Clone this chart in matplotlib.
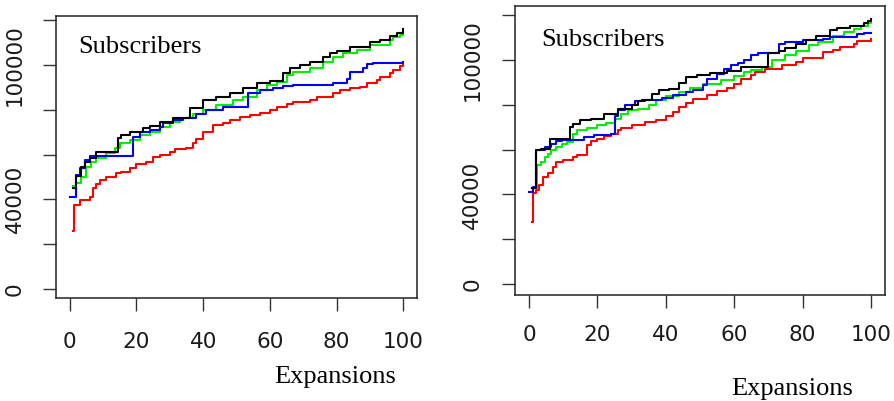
import matplotlib
matplotlib.use("Agg")
import matplotlib.pyplot as plt

# left panel, step series (x where the step starts, value from there on)
left_red_x = [1, 1.3, 3, 6, 7, 8, 9, 11, 14, 15.5, 18, 20, 23, 25, 27, 30, 31.5, 35, 37, 38,
              40, 43, 46, 48, 51, 54, 57, 60, 62, 65, 67, 72, 74, 79, 81, 84, 87, 89, 92, 93,
              96, 97, 99, 100]
left_red_y = [26000, 37500, 39700, 41000, 45000, 47000, 48600, 50000, 51700, 52300, 54000, 55700,
              56800, 59000, 59800, 61200, 62400, 63000, 65000, 67000, 70200, 73100, 74200, 75400,
              76600, 77600, 78600, 79800, 81000, 82500, 83300, 84300, 85500, 87300, 88700, 89500,
              90200, 91700, 93200, 94700, 96200, 97700, 99500, 100500]

left_green_x = [1, 2, 3.5, 5, 6.5, 8, 11, 13.5, 15, 18, 21, 24, 27, 30, 33, 37, 40, 44, 49, 52,
                56, 59, 62, 65, 67, 72, 76, 79, 82, 86, 90, 96, 97, 99, 100]
left_green_y = [46000, 47100, 50100, 54500, 56800, 58300, 60500, 62700, 65000, 66500, 68700, 70200,
                72400, 74600, 76200, 78000, 79800, 82100, 84300, 85800, 88800, 91000, 92500, 95400,
                97000, 98400, 101400, 103600, 105100, 106600, 108800, 111000, 112500, 113300, 114000]

left_blue_x = [0, 2, 3, 4.5, 6, 19, 21, 24, 27, 28, 31, 34, 38, 41, 46, 53.4, 57, 61, 64, 67,
               79, 83, 84, 88, 89, 91, 100]
left_blue_y = [41000, 50800, 53800, 57500, 59500, 67900, 70200, 70900, 72400, 73900, 75400, 76300,
               78300, 79800, 81000, 87600, 88800, 89500, 90500, 90900, 92000, 93500, 97000, 98400,
               100300, 100900, 101400]

left_black_x = [1, 2, 3.5, 4.5, 6, 8, 14.5, 15.5, 18, 22, 24, 27, 31, 36, 40, 44, 48, 52, 56, 60,
                64, 66, 69, 72, 76, 78, 80, 84, 90, 93, 96, 98, 100]
left_black_y = [45000, 50400, 54500, 56800, 58300, 61200, 67200, 68700, 70200, 71700, 72700, 74600,
                76100, 80600, 84300, 85800, 87300, 89500, 92000, 92800, 96200, 98400, 99800, 101400,
                103600, 105100, 106300, 107800, 110000, 111000, 112800, 114000, 115800]

# right panel
right_red_x = [1, 1.3, 2, 3, 4, 5.5, 7, 8, 10, 13, 14, 17, 18, 20, 22, 24, 26, 27, 30, 34,
               37, 40, 42, 44, 46, 48, 52, 55, 58, 60, 62, 65, 66, 69, 74, 78, 80, 86, 89, 91,
               95, 96, 100]
right_red_y = [27800, 40700, 42200, 44200, 47900, 49400, 52300, 54500, 55600, 56800, 57500, 62000,
               63900, 65000, 66000, 67200, 68700, 69900, 70900, 72400, 73400, 74900, 76900, 79100,
               80900, 82800, 84300, 86200, 87700, 89500, 91700, 93200, 94700, 96200, 97700, 99200,
               100900, 103600, 104700, 105800, 107300, 108500, 109600]

right_green_x = [1, 2.4, 3.6, 4.6, 5.5, 6.5, 8, 9.5, 11, 13, 14, 17, 20, 22.6, 25, 27, 29, 32, 35, 37,
                 40, 44, 47, 51, 56, 60, 63, 65, 68, 71, 75, 78, 82, 84.5, 89, 92, 95, 97, 99, 100]
right_green_y = [43000, 53100, 54500, 56800, 58300, 59800, 61200, 62700, 63500, 67200, 68700, 69700,
                 70900, 71900, 73900, 76100, 77600, 78400, 79800, 82100, 83800, 85800, 87700, 89200,
                 91000, 92800, 94700, 95400, 96900, 99900, 102100, 104300, 106600, 108100, 111000,
                 112500, 113900, 115400, 116500, 117000]

right_blue_x = [0, 1.2, 2, 4.6, 6.5, 8, 9.5, 16, 19, 24, 25, 26, 28, 31, 34, 39, 42, 46, 48, 51,
                52, 55, 57, 59, 61, 63, 65, 67, 73, 75, 80, 86, 88, 96, 98, 100]
right_blue_y = [41200, 43400, 59800, 61200, 62700, 63800, 64500, 65700, 66500, 67200, 74900, 77900,
                79800, 81700, 82400, 83300, 84300, 85800, 86800, 88800, 91700, 94000, 96200, 97700,
                98700, 99900, 102100, 103000, 107300, 108100, 108800, 109600, 110300, 111500,
                112100, 112100]

right_black_x = [1, 2, 3.6, 6, 12, 13, 15, 18, 22, 26, 30, 32, 33, 36, 38, 41, 44, 46, 49, 53,
                 58, 62, 70, 73, 75, 78, 81, 84, 88, 90, 94, 98, 99, 100]
right_black_y = [43000, 60000, 60500, 65000, 70200, 71700, 73100, 73900, 76100, 78400, 79800, 81700,
                 82400, 84700, 86500, 87300, 89800, 92500, 93200, 94200, 95200, 96800, 103200,
                 104100, 105600, 107300, 108800, 110600, 113600, 114500, 115400, 116500, 117700,
                 118500]

x_ticks = [0, 20, 40, 60, 80, 100]
y_ticks = [0, 20000, 40000, 60000, 80000, 100000, 120000]
y_tick_labels = ["0", "", "40000", "", "", "100000", ""]

W, H = 895, 401
fig = plt.figure(figsize=(W / 100, H / 100), dpi=100)


def make_panel(rect, ylim, series, xpad, ypad):
    ax = fig.add_axes([rect[0] / W, 1 - rect[3] / H, (rect[2] - rect[0]) / W, (rect[3] - rect[1]) / H])
    for xs, ys, col in series:
        ax.plot(xs, ys, drawstyle="steps-post", color=col, lw=1.5)
    ax.set_xlim(-4.1, 104.1)
    ax.set_ylim(*ylim)
    ax.set_xticks(x_ticks)
    ax.set_yticks(y_ticks)
    ax.set_yticklabels(y_tick_labels, rotation=90, va="center")
    for s in ax.spines.values():
        s.set_linewidth(1.1)
        s.set_color("#222222")
    ax.tick_params(axis="both", length=9.5, width=1.0, color="#333333",
                   labelsize=15.5, labelcolor="#1a1a1a")
    ax.tick_params(axis="x", pad=xpad)
    ax.tick_params(axis="y", pad=ypad)
    return ax


cols = ["#ff0000", "#00ee00", "#0000ff", "#000000"]

make_panel((56, 16, 417, 298), (-4000, 121800),
           [(left_red_x, left_red_y, cols[0]), (left_green_x, left_green_y, cols[1]),
            (left_blue_x, left_blue_y, cols[2]), (left_black_x, left_black_y, cols[3])],
           xpad=15, ypad=13)
make_panel((515, 6, 885, 295), (-4900, 124200),
           [(right_red_x, right_red_y, cols[0]), (right_green_x, right_green_y, cols[1]),
            (right_blue_x, right_blue_y, cols[2]), (right_black_x, right_black_y, cols[3])],
           xpad=12, ypad=14)

serif = "Liberation Serif"
fig.text(78 / W, 1 - 47 / H, "Subscribers", family=serif, fontsize=19, ha="left", va="center")
fig.text(541 / W, 1 - 40 / H, "Subscribers", family=serif, fontsize=19, ha="left", va="center")
fig.text(335 / W, 1 - 377 / H, "Expansions", family=serif, fontsize=19, ha="center", va="center")
fig.text(792 / W, 1 - 389 / H, "Expansions", family=serif, fontsize=19, ha="center", va="center")

fig.savefig("out.png", dpi=100)
